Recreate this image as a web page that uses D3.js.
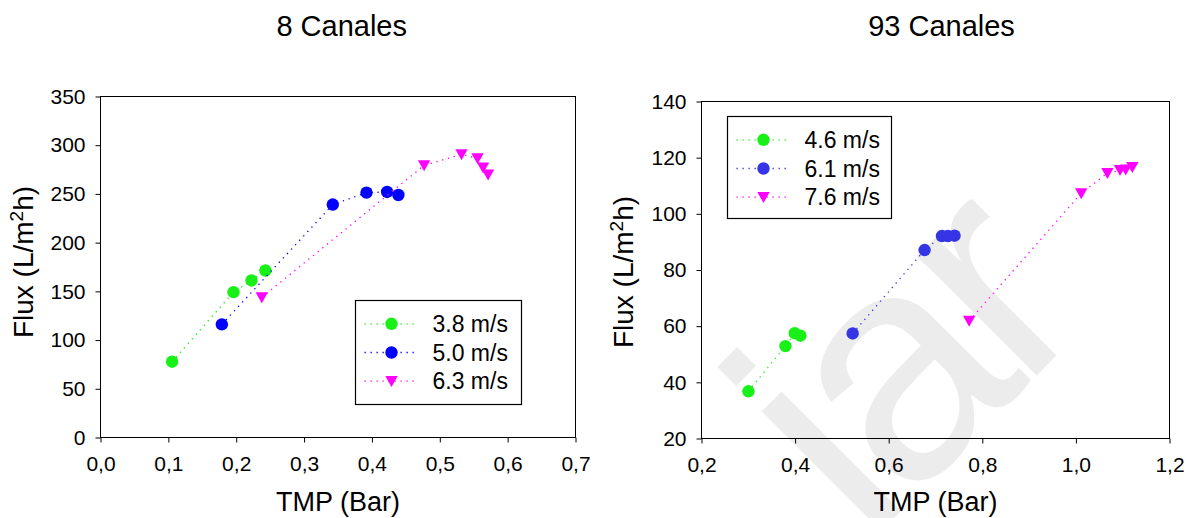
<!DOCTYPE html>
<html>
<head>
<meta charset="utf-8">
<script src="https://cdn.jsdelivr.net/npm/d3@7"></script>
<style>
  html, body { margin: 0; padding: 0; background: #fff; }
  svg { display: block; }
  text { font-family: 'Liberation Sans', Arial, Helvetica, sans-serif; fill: #000; }
</style>
</head>
<body>
<svg id="chart" width="1187" height="518"></svg>
<script>
// ---- 8 channels module ----
const ch8Title = "8 Canales";
const ch8XTicks = [0, 0.1, 0.2, 0.3, 0.4, 0.5, 0.6, 0.7];
const ch8YTicks = [0, 50, 100, 150, 200, 250, 300, 350];
const ch8Labels = ["3.8 m/s", "5.0 m/s", "6.3 m/s"];
const ch8TmpA = [0.1055, 0.196, 0.2225, 0.243];
const ch8FluxA = [77.8, 149.2, 161.2, 171.4];
const ch8TmpB = [0.1788, 0.3423, 0.392, 0.4224, 0.439];
const ch8FluxB = [116.1, 239.1, 251.3, 252.0, 248.9];
const ch8TmpC = [0.2377, 0.4769, 0.532, 0.5556, 0.5638, 0.5712];
const ch8FluxC = [143.8, 279.3, 290.6, 286.5, 277.0, 269.8];

// ---- 93 channels module ----
const ch93Title = "93 Canales";
const ch93XTicks = [0.2, 0.4, 0.6, 0.8, 1.0, 1.2];
const ch93YTicks = [20, 40, 60, 80, 100, 120, 140];
const ch93Labels = ["4.6 m/s", "6.1 m/s", "7.6 m/s"];
const ch93TmpA = [0.3003, 0.3793, 0.3992, 0.4113];
const ch93FluxA = [36.8, 52.9, 57.5, 56.6];
const ch93TmpB = [0.523, 0.6767, 0.7137, 0.7265, 0.7407];
const ch93FluxB = [57.4, 87.1, 92.1, 92.1, 92.2];
const ch93TmpC = [0.772, 1.0114, 1.0674, 1.0943, 1.1065, 1.1206];
const ch93FluxC = [61.9, 107.3, 114.5, 115.5, 115.7, 116.6];

const xTitle = "TMP (Bar)";

const svg = d3.select("#chart");

// faint background watermark
svg.append("text")
  .attr("transform", "translate(866,546) rotate(-45)")
  .attr("font-size", 320)
  .attr("letter-spacing", -15)
  .style("fill", "#ececec")
  .text("iar");

const commaFmt = v => d3.format(".1f")(v).replace(".", ",");

function drawPanel(p) {
  const x = d3.scaleLinear().domain(p.xDomain).range(p.xRange);
  const y = d3.scaleLinear().domain(p.yDomain).range(p.yRange);
  const g = svg.append("g");

  // y axis
  const ya = g.append("g")
    .attr("transform", `translate(${p.xRange[0]},0)`)
    .call(d3.axisLeft(y).tickValues(p.yTicks).tickSize(5).tickPadding(10).tickFormat(d3.format("d")));
  // x axis
  const xa = g.append("g")
    .attr("transform", `translate(0,${p.yRange[0]})`)
    .call(d3.axisBottom(x).tickValues(p.xTicks).tickSize(5).tickPadding(14).tickFormat(commaFmt));
  [ya, xa].forEach(a => {
    a.select(".domain").remove();
    a.selectAll(".tick line").attr("stroke", "#000");
    a.selectAll("text").attr("font-size", 21)
      .attr("font-family", "'Liberation Sans', Arial, sans-serif");
  });

  // plot frame
  g.append("rect")
    .attr("x", p.xRange[0]).attr("y", p.yRange[1])
    .attr("width", p.xRange[1] - p.xRange[0])
    .attr("height", p.yRange[0] - p.yRange[1])
    .attr("fill", "none").attr("stroke", "#000").attr("stroke-width", 1);

  // series lines and markers
  const line = d3.line().x(d => x(d[0])).y(d => y(d[1]));
  p.series.forEach(s => {
    const pts = s.tmp.map((t, i) => [t, s.flux[i]]);
    g.append("path").datum(pts)
      .attr("d", line)
      .attr("fill", "none").attr("stroke", s.color)
      .attr("stroke-width", 1.3).attr("stroke-dasharray", "1.3 4.7");
    g.selectAll(null).data(pts).enter()
      .append("path")
      .attr("transform", d => `translate(${x(d[0])},${y(d[1])})`)
      .attr("d", markerPath(s.shape))
      .attr("fill", s.color);
  });

  // legend
  const lb = p.legend;
  const lg = g.append("g").attr("transform", `translate(${lb.x},${lb.y})`);
  lg.append("rect").attr("width", lb.w).attr("height", lb.h)
    .attr("fill", "#fff").attr("stroke", "#000").attr("stroke-width", 1.2);
  p.series.forEach((s, i) => {
    const ry = 23.3 + i * 28.7;
    lg.append("line").attr("x1", 9).attr("x2", 62).attr("y1", ry).attr("y2", ry)
      .attr("stroke", s.color).attr("stroke-width", 1.3).attr("stroke-dasharray", "1.3 4.7");
    lg.append("path").attr("transform", `translate(36,${ry})`)
      .attr("d", markerPath(s.shape)).attr("fill", s.color);
    lg.append("text").attr("x", 77).attr("y", ry).attr("dy", "0.36em")
      .attr("font-size", 23).text(s.label);
  });

  // titles
  svg.append("text").attr("x", p.titleX).attr("y", 36)
    .attr("text-anchor", "middle").attr("font-size", 29).text(p.title);
  svg.append("text").attr("x", p.xLabelX).attr("y", 511)
    .attr("text-anchor", "middle").attr("font-size", 27).text(xTitle);
  const yl = svg.append("text")
    .attr("transform", `translate(${p.yLabel[0]},${p.yLabel[1]}) rotate(-90)`)
    .attr("text-anchor", "middle").attr("font-size", 28);
  yl.append("tspan").text("Flux (L/m");
  yl.append("tspan").attr("font-size", 19).attr("dy", "-0.55em").text("2");
  yl.append("tspan").attr("dy", "0.38em").text("h)");
}

function markerPath(shape) {
  if (shape === "circle") return d3.symbol(d3.symbolCircle, Math.PI * 6.2 * 6.2)();
  // downward pointing triangle
  const pth = d3.path();
  pth.moveTo(-6.2, -5.2); pth.lineTo(6.2, -5.2); pth.lineTo(0, 5.8); pth.closePath();
  return pth.toString();
}

drawPanel({
  title: ch8Title, titleX: 341.7, xLabelX: 338, yLabel: [33, 262],
  xDomain: [0, 0.7], xRange: [100.5, 575.5],
  yDomain: [0, 350], yRange: [437.5, 96.5],
  xTicks: ch8XTicks, yTicks: ch8YTicks,
  legend: { x: 355.5, y: 300.5, w: 166, h: 104 },
  series: [
    { label: ch8Labels[0], tmp: ch8TmpA, flux: ch8FluxA, color: "#18f018", shape: "circle" },
    { label: ch8Labels[1], tmp: ch8TmpB, flux: ch8FluxB, color: "#0000ff", shape: "circle" },
    { label: ch8Labels[2], tmp: ch8TmpC, flux: ch8FluxC, color: "#ff00ff", shape: "tri" }
  ]
});

drawPanel({
  title: ch93Title, titleX: 941.5, xLabelX: 935.5, yLabel: [633, 272],
  xDomain: [0.2, 1.2], xRange: [701.5, 1169.5],
  yDomain: [20, 140], yRange: [438.5, 101.5],
  xTicks: ch93XTicks, yTicks: ch93YTicks,
  legend: { x: 727.5, y: 116.5, w: 164, h: 102 },
  series: [
    { label: ch93Labels[0], tmp: ch93TmpA, flux: ch93FluxA, color: "#18f018", shape: "circle" },
    { label: ch93Labels[1], tmp: ch93TmpB, flux: ch93FluxB, color: "#3535e6", shape: "circle" },
    { label: ch93Labels[2], tmp: ch93TmpC, flux: ch93FluxC, color: "#ff00ff", shape: "tri" }
  ]
});
</script>
</body>
</html>
